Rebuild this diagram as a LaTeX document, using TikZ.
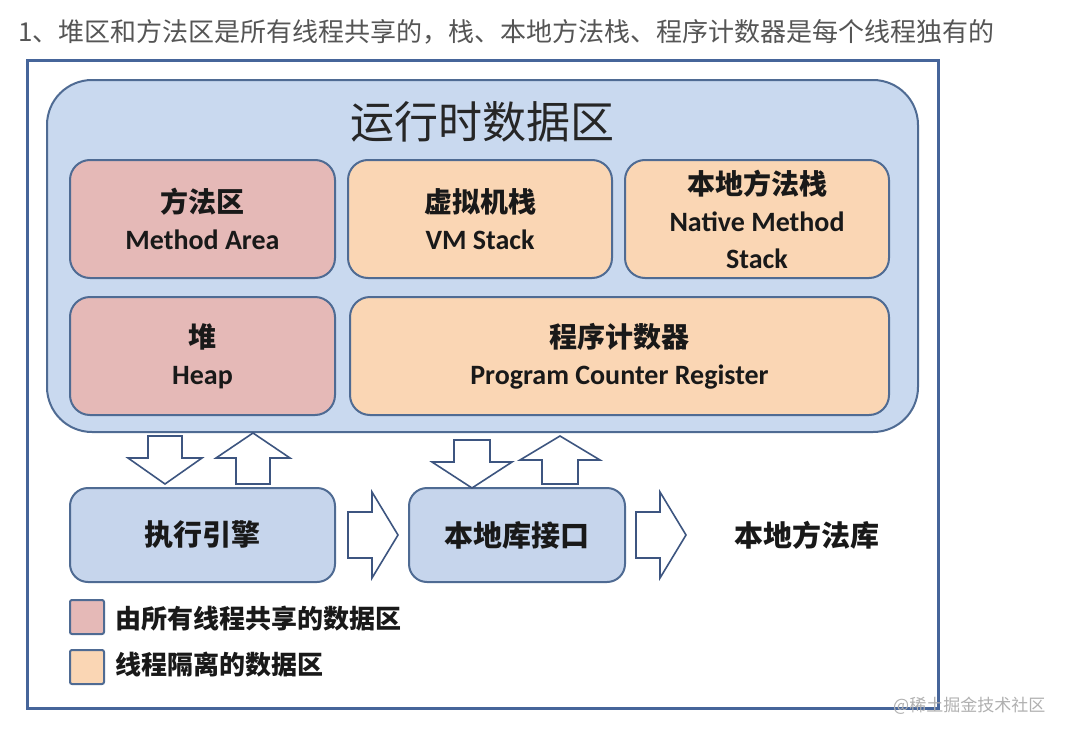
\documentclass[tikz,border=0pt]{standalone}
\usepackage{fontspec}
\setmainfont{Carlito}[BoldFont={* Bold}]
\newfontfamily\cjk{Noto Sans CJK SC}
\definecolor{frameblue}{HTML}{46659A}
\definecolor{edgeblue}{HTML}{4F6B93}
\definecolor{bigfill}{HTML}{C9D9EF}
\definecolor{pinkfill}{HTML}{E5B9B7}
\definecolor{peachfill}{HTML}{FAD6B4}
\definecolor{boxfill}{HTML}{C6D5EC}
\definecolor{arrowedge}{HTML}{3D5580}
\definecolor{txtgray}{HTML}{555555}
\definecolor{markgray}{HTML}{B0B0B0}
\tikzset{
  area/.style={draw=edgeblue, line width=2pt, rounded corners=20pt, inner sep=0pt, align=center,
    font=\bfseries\fontsize{28}{37}\selectfont, text=black!90},
  shared/.style={area, fill=pinkfill},
  private/.style={area, fill=peachfill},
  engine/.style={draw=edgeblue, line width=2pt, rounded corners=18pt, fill=boxfill, inner sep=0pt,
    font=\cjk\bfseries\fontsize{29}{34}\selectfont, text=black!90},
  blockarrow/.style={draw=arrowedge, line width=1.6pt, fill=white, line join=miter},
  legendbox/.style={draw=edgeblue, line width=2pt, rounded corners=2pt, minimum width=34pt, minimum height=34pt, inner sep=0pt},
  legendtext/.style={anchor=west, font=\cjk\bfseries\fontsize{26}{30}\selectfont, text=black!90}
}
\begin{document}
\begin{tikzpicture}[x=1pt,y=-1pt]
\useasboundingbox (0,0) rectangle (1076,736);
\fill[white] (0,0) rectangle (1076,736);
% heading
\node[anchor=west, text=txtgray, font=\cjk\fontsize{26}{30}\selectfont, inner sep=0pt] (head) at (18,32)
  {1、堆区和方法区是所有线程共享的，栈、本地方法栈、程序计数器是每个线程独有的};
% outer frame
\node[draw=frameblue, line width=3pt, minimum width=911pt, minimum height=648pt, inner sep=0pt] (frame) at (482.5,384) {};
% runtime data area
\node[draw=edgeblue, line width=2pt, fill=bigfill, rounded corners=45pt, minimum width=871pt, minimum height=352pt, inner sep=0pt] (rt) at (482.5,256) {};
\node[font=\cjk\fontsize{44}{48}\selectfont, text=black!85, inner sep=0pt] (rttitle) at (482,122) {运行时数据区};
% inner areas
\node[shared, minimum width=265pt, minimum height=118pt] (method) at (202.5,219)
  {{\cjk 方法区}\\Method Area};
\node[private, minimum width=264pt, minimum height=118pt] (vm) at (480,219)
  {{\cjk 虚拟机栈}\\VM Stack};
\node[private, minimum width=264pt, minimum height=118pt] (native) at (757,219)
  {\fontsize{28}{36}\selectfont{\cjk 本地方法栈}\\Native Method\\Stack};
\node[shared, minimum width=265pt, minimum height=118pt] (heap) at (202.5,356)
  {{\cjk 堆}\\Heap};
\node[private, minimum width=539pt, minimum height=118pt] (pc) at (619.5,356)
  {{\cjk 程序计数器}\\Program Counter Register};
% bottom boxes
\node[engine, minimum width=265pt, minimum height=94pt] (exec) at (202.5,535) {执行引擎};
\node[engine, minimum width=216pt, minimum height=94pt] (jni) at (517,535) {本地库接口};
\node[font=\cjk\bfseries\fontsize{29}{34}\selectfont, text=black!90, inner sep=0pt] (lib) at (807,535) {本地方法库};
% block arrows (down / up)
\draw[blockarrow] (148,436) -- (182,436) -- (182,458) -- (202,458) -- (165,484) -- (128,458) -- (148,458) -- cycle;
\draw[blockarrow] (236,484) -- (270,484) -- (270,458) -- (290,458) -- (253,433) -- (216,458) -- (236,458) -- cycle;
\draw[blockarrow] (454,440) -- (490,440) -- (490,462) -- (512,462) -- (472,488) -- (432,462) -- (454,462) -- cycle;
\draw[blockarrow] (542,484) -- (578,484) -- (578,460) -- (600,460) -- (560,436) -- (520,460) -- (542,460) -- cycle;
% block arrows (right)
\draw[blockarrow] (348,512) -- (372,512) -- (372,492) -- (398,535) -- (372,578) -- (372,558) -- (348,558) -- cycle;
\draw[blockarrow] (636,512) -- (660,512) -- (660,492) -- (686,535) -- (660,578) -- (660,558) -- (636,558) -- cycle;
% legend
\node[legendbox, fill=pinkfill] (leg1) at (87,617) {};
\node[legendtext] (leg1t) at (112,619) {由所有线程共享的数据区};
\node[legendbox, fill=peachfill] (leg2) at (87,667) {};
\node[legendtext] (leg2t) at (112,665) {线程隔离的数据区};
% watermark
\node[anchor=west, text=markgray, font=\cjk\fontsize{17}{20}\selectfont, inner sep=0pt] (mark) at (893,706) {@稀土掘金技术社区};
\end{tikzpicture}
\end{document}
